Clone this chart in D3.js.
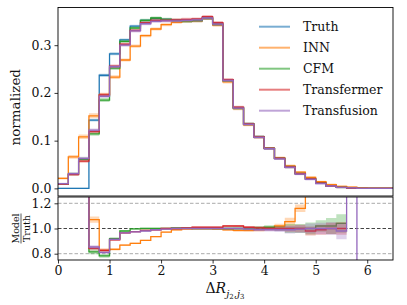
<!DOCTYPE html>
<html><head><meta charset="utf-8">
<script src="https://cdn.jsdelivr.net/npm/d3@7"></script>
<style>
body{margin:0;background:#fff}
svg text{font-family:'DejaVu Serif',serif;fill:#111}
</style>
</head><body>
<svg width="407" height="305"></svg>
<script>
var serif = "'DejaVu Serif'";

// bins of width 0.2 starting at 0
var binEdges = d3.range(34).map(function(i){ return +(i*0.2).toFixed(1); });

var seriesNames = ["Truth","INN","CFM","Transfermer","Transfusion"];
var seriesColors = ["#1f77b4","#ff7f0e","#2ca02c","#d62728","#9467bd"];

// normalized distributions (top panel)
var truth = [0,0,0,0.143,0.237,0.282,0.311,0.340,0.352,0.356,0.354,0.352,0.350,0.351,0.356,0.344,0.226,0.169,0.135,0.108,0.084,0.063,0.045,0.031,0.020,0.011,0.005,0.002,0,0,0,0,0];
var inn = [0.021,0.066,0.108,0.152,0.196,0.233,0.269,0.298,0.320,0.334,0.343,0.348,0.350,0.351,0.356,0.342,0.223,0.167,0.133,0.107,0.084,0.064,0.047,0.034,0.023,0.014,0.008,0.004,0.0025,0.001,0.0005,0.0003,0.0002];
var cfm = [0.009,0.030,0.061,0.114,0.185,0.252,0.308,0.336,0.352,0.357,0.354,0.352,0.351,0.352,0.357,0.344,0.226,0.168,0.135,0.108,0.084,0.063,0.045,0.031,0.020,0.011,0.005,0.002,0.0005,0,0,0,0];
var transfermer = [0.009,0.029,0.057,0.119,0.196,0.256,0.302,0.331,0.347,0.352,0.352,0.353,0.354,0.355,0.360,0.347,0.228,0.170,0.135,0.108,0.084,0.063,0.045,0.031,0.020,0.011,0.005,0.002,0.0005,0,0,0,0];
var transfusion = [0.010,0.031,0.063,0.122,0.193,0.255,0.300,0.330,0.345,0.350,0.351,0.351,0.352,0.353,0.357,0.344,0.226,0.168,0.134,0.107,0.083,0.062,0.044,0.030,0.019,0.010,0.005,0.002,0.001,0,0,0,0];

// model / truth (bottom panel), null = no value
var rInn = [99,99,99,1.07,0.826,0.835,0.868,0.882,0.906,0.935,0.972,0.99,0.995,0.998,0.997,0.995,0.99,0.985,0.985,0.99,1.0,1.02,1.055,1.16,1.4,1.6,2,3,99,99,99,99,99];
var rCfm = [99,99,99,0.815,0.782,0.92,0.98,0.997,1.0,1.0,1.0,1.005,1.005,1.0,1.0,1.0,1.0,1.0,1.0,1.005,1.01,1.0,1.0,1.0,1.0,1.02,1.02,1.04,null,null,null,null,null];
var rTransfermer = [99,99,99,0.843,0.827,0.91,0.965,0.975,0.985,0.99,1.0,1.0,1.005,1.01,1.01,1.01,1.02,1.02,1.01,1.005,1.0,1.0,1.0,1.0,0.98,0.99,1.0,1.0,null,null,null,null,null];
var rTransfusion = [99,99,99,0.853,0.81,0.914,0.966,0.974,0.98,0.99,0.995,1.0,1.0,1.0,1.0,1.0,1.0,1.0,0.995,0.99,0.99,0.99,0.99,0.995,1.0,1.0,1.0,0.98,99,0,null,null,null];

// relative uncertainties (half widths)
var eTruth = [0.01,0.01,0.01,0.01,0.008,0.006,0.005,0.004,0.004,0.004,0.004,0.004,0.004,0.004,0.004,0.004,0.005,0.006,0.008,0.01,0.012,0.015,0.02,0.025,0.03,0.04,0.05,0.06,0.08,0.08,0.08,0.08,0.08];
var eInn = [0.05,0.04,0.03,0.025,0.015,0.01,0.007,0.006,0.005,0.005,0.005,0.005,0.005,0.005,0.005,0.006,0.008,0.01,0.012,0.013,0.015,0.018,0.03,0.03,0.04,0.05,0.06,0.08,0.1,0.1,0.1,0.1,0.1];
var eCfm = [0.06,0.05,0.04,0.02,0.015,0.01,0.006,0.005,0.005,0.005,0.005,0.005,0.005,0.005,0.005,0.006,0.008,0.01,0.012,0.014,0.016,0.02,0.035,0.035,0.047,0.046,0.063,0.073,0.1,0.1,0.1,0.1,0.1];
var eTransfermer = [0.05,0.04,0.03,0.015,0.012,0.008,0.006,0.005,0.005,0.005,0.005,0.005,0.005,0.005,0.005,0.006,0.007,0.008,0.01,0.012,0.014,0.018,0.025,0.03,0.035,0.04,0.045,0.05,0.1,0.1,0.1,0.1,0.1];
var eTransfusion = [0.05,0.04,0.03,0.015,0.012,0.008,0.006,0.005,0.005,0.005,0.005,0.005,0.005,0.005,0.005,0.006,0.007,0.008,0.01,0.012,0.014,0.018,0.03,0.03,0.04,0.045,0.05,0.065,0.1,0.1,0.1,0.1,0.1];

var topTicks = [0.0,0.1,0.2,0.3];
var ratioTicks = [0.8,1.0,1.2];
var xTicks = [0,1,2,3,4,5,6];

var dists = [truth,inn,cfm,transfermer,transfusion];
var ratios = [null,rInn,rCfm,rTransfermer,rTransfusion];
var errs = [eTruth,eInn,eCfm,eTransfermer,eTransfusion];

var left = 58, right = 393;
var svg = d3.select("svg");

var x = d3.scaleLinear().domain([0,6.5]).range([left,right]);
var y = d3.scaleLinear().domain([-0.016,0.379]).range([196,7.5]);
var yr = d3.scaleLinear().domain([0.75,1.25]).range([260,197]);

svg.append("defs").selectAll("clipPath")
  .data([["clipTop",y],["clipRatio",yr]])
  .enter().append("clipPath").attr("id",function(d){return d[0];})
  .append("rect")
  .attr("x",left).attr("width",right-left)
  .attr("y",function(d){return d[1].range()[1];})
  .attr("height",function(d){return d[1].range()[0]-d[1].range()[1];});

// turn a histogram into step points, two per bin
function steps(vals, lo, hi){
  var pts = [];
  vals.forEach(function(v,i){
    var ok = v !== null;
    pts.push({x:binEdges[i], y:v, y0:ok?lo(v,i):null, y1:ok?hi(v,i):null});
    pts.push({x:binEdges[i+1], y:v, y0:ok?lo(v,i):null, y1:ok?hi(v,i):null});
  });
  return pts;
}

function drawPanel(g, ys, valsList, loFn, hiFn){
  var line = d3.line().defined(function(d){return d.y!==null;})
    .x(function(d){return x(d.x);}).y(function(d){return ys(d.y);});
  var area = d3.area().defined(function(d){return d.y!==null;})
    .x(function(d){return x(d.x);})
    .y0(function(d){return ys(d.y0);}).y1(function(d){return ys(d.y1);});
  valsList.forEach(function(vals,k){
    if(!vals) return;
    var pts = steps(vals, function(v,i){return loFn(v,i,k);}, function(v,i){return hiFn(v,i,k);});
    g.append("path").attr("d",area(pts))
      .attr("fill",seriesColors[k]).attr("fill-opacity",0.3);
    g.append("path").attr("d",line(pts))
      .attr("fill","none").attr("stroke",seriesColors[k]).attr("stroke-width",1.3);
  });
}

// top panel
var gTop = svg.append("g").attr("clip-path","url(#clipTop)");
drawPanel(gTop, y, dists,
  function(v,i,k){return v*(1-errs[k][i]) - 0.0015;},
  function(v,i,k){return v*(1+errs[k][i]) + 0.0015;});

// ratio panel
var gRatio = svg.append("g").attr("clip-path","url(#clipRatio)");
gRatio.selectAll("line.ref").data(ratioTicks).enter().append("line")
  .attr("x1",left).attr("x2",right)
  .attr("y1",function(d){return yr(d);}).attr("y2",function(d){return yr(d);})
  .attr("stroke",function(d){return d===1?"#444":"#aaa";})
  .attr("stroke-width",1)
  .attr("stroke-dasharray","3.5,2");
drawPanel(gRatio, yr, ratios,
  function(v,i,k){return v-errs[k][i];},
  function(v,i,k){return v+errs[k][i];});

// frames
[[y,196,7.5],[yr,260,197]].forEach(function(p){
  svg.append("rect").attr("x",left).attr("y",p[2])
    .attr("width",right-left).attr("height",p[1]-p[2])
    .attr("fill","none").attr("stroke","#000").attr("stroke-width",0.9);
});

// axes
var ayTop = svg.append("g").attr("transform","translate("+left+",0)")
  .call(d3.axisLeft(y).tickValues(topTicks).tickFormat(d3.format(".1f")).tickSize(3.5).tickPadding(3));
var ayR = svg.append("g").attr("transform","translate("+left+",0)")
  .call(d3.axisLeft(yr).tickValues(ratioTicks).tickFormat(d3.format(".1f")).tickSize(3.5).tickPadding(3));
var ax = svg.append("g").attr("transform","translate(0,260)")
  .call(d3.axisBottom(x).tickValues(xTicks).tickFormat(d3.format("d")).tickSize(3.5).tickPadding(3));
[ayTop,ayR,ax].forEach(function(a){
  a.attr("font-family",serif).attr("font-size",12.5);
  a.select(".domain").remove();
  a.selectAll("text").attr("fill","#111");
  a.selectAll("line").attr("stroke","#000").attr("stroke-width",0.8);
});

// y label
svg.append("text").attr("transform","translate(20,"+y(0.17)+") rotate(-90)")
  .attr("text-anchor","middle").attr("font-size",13.5).text("normalized");

// ratio label as a fraction
var fr = svg.append("g").attr("transform","translate(21,"+yr(1.0)+") rotate(-90)")
  .attr("font-size",9.5);
fr.append("text").attr("text-anchor","middle").attr("y",-2).text("Model");
fr.append("line").attr("x1",-15).attr("x2",15).attr("y1",0).attr("y2",0).attr("stroke","#111").attr("stroke-width",0.7);
fr.append("text").attr("text-anchor","middle").attr("y",8.5).text("Truth");

// x label
var xl = svg.append("text").attr("x",225).attr("y",293).attr("text-anchor","middle")
  .attr("font-size",14);
xl.append("tspan").text("\u0394");
xl.append("tspan").attr("font-style","italic").text("R");
xl.append("tspan").attr("dy",4).attr("font-size",10).attr("font-style","italic").text("j");
xl.append("tspan").attr("dy",2).attr("font-size",7).text("2");
xl.append("tspan").attr("dy",-2).attr("font-size",10).text(",");
xl.append("tspan").attr("font-size",10).attr("font-style","italic").text("j");
xl.append("tspan").attr("dy",2).attr("font-size",7).text("3");

// legend
var lg = svg.append("g").attr("font-size",12.5)
  .selectAll("g").data(seriesNames).enter().append("g")
  .attr("transform",function(d,i){return "translate(259,"+(26.7+i*21)+")";});
lg.append("line").attr("x1",0).attr("x2",31)
  .attr("stroke",function(d,i){return seriesColors[i];})
  .attr("stroke-opacity",0.6).attr("stroke-width",2);
lg.append("text").attr("x",44).attr("y",4.5).text(function(d){return d;});
</script>
</body></html>
